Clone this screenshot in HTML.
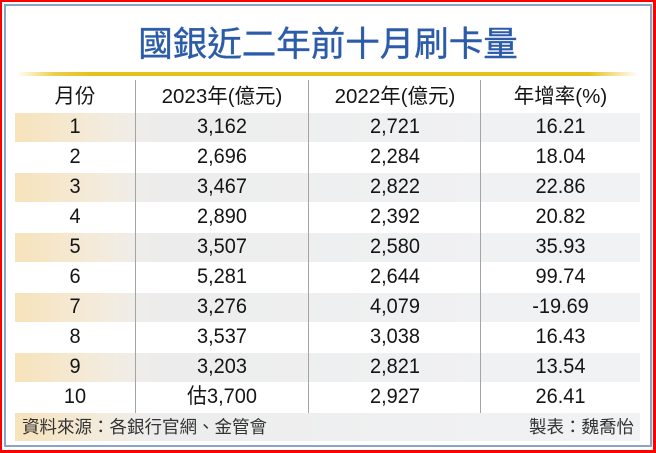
<!DOCTYPE html>
<html><head><meta charset="utf-8">
<style>
html,body{margin:0;padding:0;}
body{width:656px;height:453px;background:#fe0000;position:relative;overflow:hidden;font-family:"Liberation Sans","Noto Sans CJK TC",sans-serif;}
.abs{position:absolute;}
#white{left:2px;top:2px;width:651px;height:448px;background:#fff;}
#frame{left:4px;top:4px;width:644px;height:439px;border:2px solid #8ba3c6;background:#fff;}
#title{left:0;top:23px;width:656px;text-align:center;font-size:34.5px;line-height:36px;color:#2c5ca9;font-family:"Noto Sans CJK TC","Liberation Sans",sans-serif;letter-spacing:0px;-webkit-text-stroke:0.4px #2c5ca9;}
#gold{left:17px;top:72px;width:621px;height:4px;background:linear-gradient(to right,rgba(230,195,30,0) 0%,rgba(230,195,30,0.8) 6%,#e5c11c 12%,#e5c11c 92%,rgba(230,195,30,0) 100%);}
.band{left:15px;width:625px;height:29px;background:linear-gradient(to right,#f7e3bb 0%,#f4ead8 12%,#efedea 20%,#ececec 24%,#eff0f1 60%,#f1f2f4 100%);}
.vl{width:1px;top:80px;height:333px;background:#a4a4a4;}
.cell{height:30px;line-height:30px;text-align:center;font-size:21px;color:#151515;transform:scaleX(0.95);}
.hd{font-size:20.5px;transform:none;}
.c1{left:15px;width:120px;}
.c2{left:135px;width:174px;}
.c3{left:309px;width:172px;}
.c4{left:481px;width:159px;}
.foot{font-size:17.5px;color:#333;line-height:29px;height:29px;top:413px;font-family:"Liberation Sans","Noto Sans CJK TC",sans-serif;}
</style></head>
<body>
<div id="white" class="abs"></div>
<div id="frame" class="abs"></div>
<div id="title" class="abs">國銀近二年前十月刷卡量</div>
<div id="gold" class="abs"></div>

<div class="abs band" style="top:113px"></div>
<div class="abs band" style="top:173px"></div>
<div class="abs band" style="top:233px"></div>
<div class="abs band" style="top:293px"></div>
<div class="abs band" style="top:353px"></div>
<div class="abs band" style="top:413px;height:28px"></div>

<div class="abs vl" style="left:135px"></div>
<div class="abs vl" style="left:308px"></div>
<div class="abs vl" style="left:480px"></div>

<div class="abs cell hd c1" style="top:82px">月份</div>
<div class="abs cell hd c2" style="top:82px">2023年(億元)</div>
<div class="abs cell hd c3" style="top:82px">2022年(億元)</div>
<div class="abs cell hd c4" style="top:82px">年增率(%)</div>

<div class="abs cell c1" style="top:112px">1</div><div class="abs cell c2" style="top:112px">3,162</div><div class="abs cell c3" style="top:112px">2,721</div><div class="abs cell c4" style="top:112px">16.21</div>
<div class="abs cell c1" style="top:142px">2</div><div class="abs cell c2" style="top:142px">2,696</div><div class="abs cell c3" style="top:142px">2,284</div><div class="abs cell c4" style="top:142px">18.04</div>
<div class="abs cell c1" style="top:172px">3</div><div class="abs cell c2" style="top:172px">3,467</div><div class="abs cell c3" style="top:172px">2,822</div><div class="abs cell c4" style="top:172px">22.86</div>
<div class="abs cell c1" style="top:202px">4</div><div class="abs cell c2" style="top:202px">2,890</div><div class="abs cell c3" style="top:202px">2,392</div><div class="abs cell c4" style="top:202px">20.82</div>
<div class="abs cell c1" style="top:232px">5</div><div class="abs cell c2" style="top:232px">3,507</div><div class="abs cell c3" style="top:232px">2,580</div><div class="abs cell c4" style="top:232px">35.93</div>
<div class="abs cell c1" style="top:262px">6</div><div class="abs cell c2" style="top:262px">5,281</div><div class="abs cell c3" style="top:262px">2,644</div><div class="abs cell c4" style="top:262px">99.74</div>
<div class="abs cell c1" style="top:292px">7</div><div class="abs cell c2" style="top:292px">3,276</div><div class="abs cell c3" style="top:292px">4,079</div><div class="abs cell c4" style="top:292px">-19.69</div>
<div class="abs cell c1" style="top:322px">8</div><div class="abs cell c2" style="top:322px">3,537</div><div class="abs cell c3" style="top:322px">3,038</div><div class="abs cell c4" style="top:322px">16.43</div>
<div class="abs cell c1" style="top:352px">9</div><div class="abs cell c2" style="top:352px">3,203</div><div class="abs cell c3" style="top:352px">2,821</div><div class="abs cell c4" style="top:352px">13.54</div>
<div class="abs cell c1" style="top:382px">10</div><div class="abs cell c2" style="top:382px">估3,700</div><div class="abs cell c3" style="top:382px">2,927</div><div class="abs cell c4" style="top:382px">26.41</div>

<div class="abs foot" style="left:22px">資料來源：各銀行官網、金管會</div>
<div class="abs foot" style="right:22px;text-align:right">製表：魏喬怡</div>
</body></html>
